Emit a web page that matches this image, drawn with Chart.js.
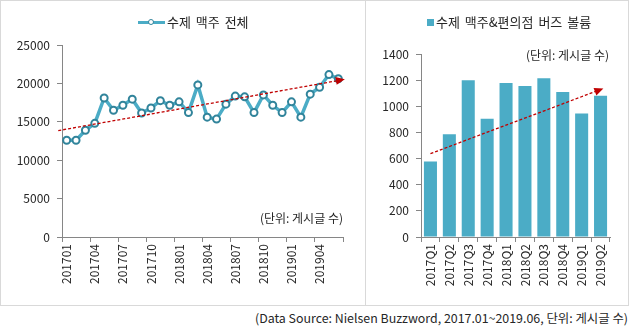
<!DOCTYPE html>
<html>
<head>
<meta charset="utf-8">
<script src="https://cdn.jsdelivr.net/npm/chart.js@4.4.1/dist/chart.umd.min.js"></script>
<style>
  body { margin:0; width:630px; height:330px; background:#fff; position:relative; overflow:hidden;
         font-family:"Noto Sans CJK KR","Noto Sans",sans-serif; color:#262626; }
  #frame { position:absolute; left:0; top:0; width:629px; height:306px; box-sizing:border-box; border:1px solid #d9d9d9; }
  #divider { position:absolute; left:365px; top:0; width:1px; height:306px; background:#d9d9d9; }
  canvas { position:absolute; top:0; }
  .note { position:absolute; font-size:12px; line-height:14px; white-space:nowrap; }
  .legend { position:absolute; top:13px; height:18px; font-size:13px; line-height:18px; white-space:nowrap; }
  .legend .line { position:absolute; left:0; top:8px; width:27px; height:3px; background:#4bacc6; }
  .legend .dot { position:absolute; left:10px; top:6px; width:4px; height:4px; border:1.5px solid #31849b;
                 border-radius:50%; background:#fff; }
  .legend .box { position:absolute; left:0; top:6px; width:7px; height:7px; background:#4bacc6; }
</style>
</head>
<body>
<div id="frame"></div>
<div id="divider"></div>
<canvas id="lineChart" width="365" height="305" style="left:0"></canvas>
<canvas id="barChart" width="263" height="305" style="left:366px"></canvas>
<div class="legend" style="left:138px"><span class="line"></span><span class="dot"></span><span id="lineLegend" style="margin-left:29px; word-spacing:2px"></span></div>
<div class="legend" style="left:427px"><span class="box"></span><span id="barLegend" style="margin-left:9px; word-spacing:2px"></span></div>
<div class="note" style="right:287px; top:211px">(단위: 게시글 수)</div>
<div class="note" style="right:21px; top:48px">(단위: 게시글 수)</div>
<div class="note" style="right:2px; top:311px; font-size:12.4px">(Data Source: Nielsen Buzzword, 2017.01~2019.06, 단위: 게시글 수)</div>

<script>
var months = ['201701','201702','201703','201704','201705','201706','201707','201708','201709','201710',
              '201711','201712','201801','201802','201803','201804','201805','201806','201807','201808',
              '201809','201810','201811','201812','201901','201902','201903','201904','201905','201906'];
var craftTotal = [12600,12600,13900,14800,18100,16500,17150,17950,16150,16800,
                  17750,17150,17600,16200,19800,15600,15350,17300,18350,18250,
                  16200,18500,17150,16200,17600,15600,18600,19500,21150,20600];
var lineTicks = [0,5000,10000,15000,20000,25000];
// trend arrow: category position (fractional) and value at each end
var lineTrendIdx = [-0.9, 29.7];
var lineTrendVal = [13850, 20530];

var quarters = ['2017Q1','2017Q2','2017Q3','2017Q4','2018Q1','2018Q2','2018Q3','2018Q4','2019Q1','2019Q2'];
var buzzVolume = [577,787,1200,905,1178,1155,1215,1110,945,1080];
var barTicks = [0,200,400,600,800,1000,1200,1400];
var barTrendIdx = [0, 9.15];
var barTrendVal = [638, 1136];

var FONT = '"Noto Sans CJK KR","Noto Sans",sans-serif';
var TEAL = '#4bacc6';
var AXIS = '#868686';

Chart.defaults.font.family = FONT;
Chart.defaults.font.size = 12;
Chart.defaults.color = '#262626';

// arrow plugin, uses the chart scales for both ends
var trendArrow = {
    id: 'trendArrow',
    afterDatasetsDraw: function(chart, args, opts){
        var xs = chart.scales.x, ys = chart.scales.y;
        var x1 = xs.getPixelForValue(opts.idx[0]), y1 = ys.getPixelForValue(opts.val[0]);
        var x2 = xs.getPixelForValue(opts.idx[1]), y2 = ys.getPixelForValue(opts.val[1]);
        var ang = Math.atan2(y2 - y1, x2 - x1);
        var ctx = chart.ctx;
        ctx.save();
        ctx.strokeStyle = '#c00000';
        ctx.lineWidth = 1.3;
        ctx.setLineDash([3, 2]);
        ctx.beginPath();
        ctx.moveTo(x1, y1);
        ctx.lineTo(x2 - 7 * Math.cos(ang), y2 - 7 * Math.sin(ang));
        ctx.stroke();
        ctx.setLineDash([]);
        ctx.fillStyle = '#c00000';
        ctx.translate(x2, y2);
        ctx.rotate(ang);
        ctx.beginPath();
        ctx.moveTo(0, 0);
        ctx.lineTo(-9, -4);
        ctx.lineTo(-9, 4);
        ctx.closePath();
        ctx.fill();
        ctx.restore();
    }
};

function tickList(arr){
    return function(scale){ scale.ticks = arr.map(function(v){ return {value: v}; }); };
}
function plainNum(v){ return String(v); }

var lineChart = new Chart(document.getElementById('lineChart'), {
    type: 'line',
    data: {
        labels: months,
        datasets: [{
            label: '수제 맥주 전체',
            data: craftTotal,
            borderColor: TEAL,
            borderWidth: 3.5,
            pointRadius: 3.5,
            pointBorderWidth: 2,
            pointBackgroundColor: '#fff',
            pointBorderColor: '#31849b',
            tension: 0
        }]
    },
    options: {
        responsive: false,
        animation: false,
        layout: { padding: { top: 45, right: 22, left: 0, bottom: 0 } },
        plugins: {
            legend: { display: false },
            tooltip: { enabled: false },
            trendArrow: { idx: lineTrendIdx, val: lineTrendVal }
        },
        scales: {
            x: {
                offset: true,
                grid: {
                    offset: true, drawOnChartArea: false, tickLength: 5,
                    tickColor: function(c){ return (c.index === undefined || c.index % 3 === 0) ? AXIS : 'rgba(0,0,0,0)'; }
                },
                border: { color: AXIS, width: 1 },
                ticks: {
                    autoSkip: false, minRotation: 90, maxRotation: 90, padding: 2,
                    callback: function(v, i){ return i % 3 === 0 ? months[i] : ''; }
                },
                afterFit: function(s){ s.height = 68; }
            },
            y: {
                min: 0, max: 25000,
                afterBuildTicks: tickList(lineTicks),
                grid: { drawOnChartArea: false, tickLength: 5, tickColor: AXIS },
                border: { color: AXIS, width: 1 },
                ticks: { padding: 7, callback: plainNum },
                afterFit: function(s){ s.width = 62; }
            }
        }
    },
    plugins: [trendArrow]
});

var barChart = new Chart(document.getElementById('barChart'), {
    type: 'bar',
    data: {
        labels: quarters,
        datasets: [{
            label: '수제 맥주&편의점 버즈 볼륨',
            data: buzzVolume,
            backgroundColor: TEAL,
            categoryPercentage: 1,
            barPercentage: 0.69
        }]
    },
    options: {
        responsive: false,
        animation: false,
        layout: { padding: { top: 54, right: 19, left: 0, bottom: 0 } },
        plugins: {
            legend: { display: false },
            tooltip: { enabled: false },
            trendArrow: { idx: barTrendIdx, val: barTrendVal }
        },
        scales: {
            x: {
                grid: { offset: true, drawOnChartArea: false, tickLength: 5, tickColor: AXIS },
                border: { color: AXIS, width: 1 },
                ticks: { autoSkip: false, minRotation: 90, maxRotation: 90, padding: 2 },
                afterFit: function(s){ s.height = 68; }
            },
            y: {
                min: 0, max: 1400,
                afterBuildTicks: tickList(barTicks),
                grid: { drawOnChartArea: false, tickLength: 5, tickColor: AXIS },
                border: { color: AXIS, width: 1 },
                ticks: { padding: 7, callback: plainNum },
                afterFit: function(s){ s.width = 55; }
            }
        }
    },
    plugins: [trendArrow]
});

// legend text comes from the dataset labels
document.getElementById('lineLegend').textContent = lineChart.data.datasets[0].label;
document.getElementById('barLegend').textContent = barChart.data.datasets[0].label;
</script>
</body>
</html>
